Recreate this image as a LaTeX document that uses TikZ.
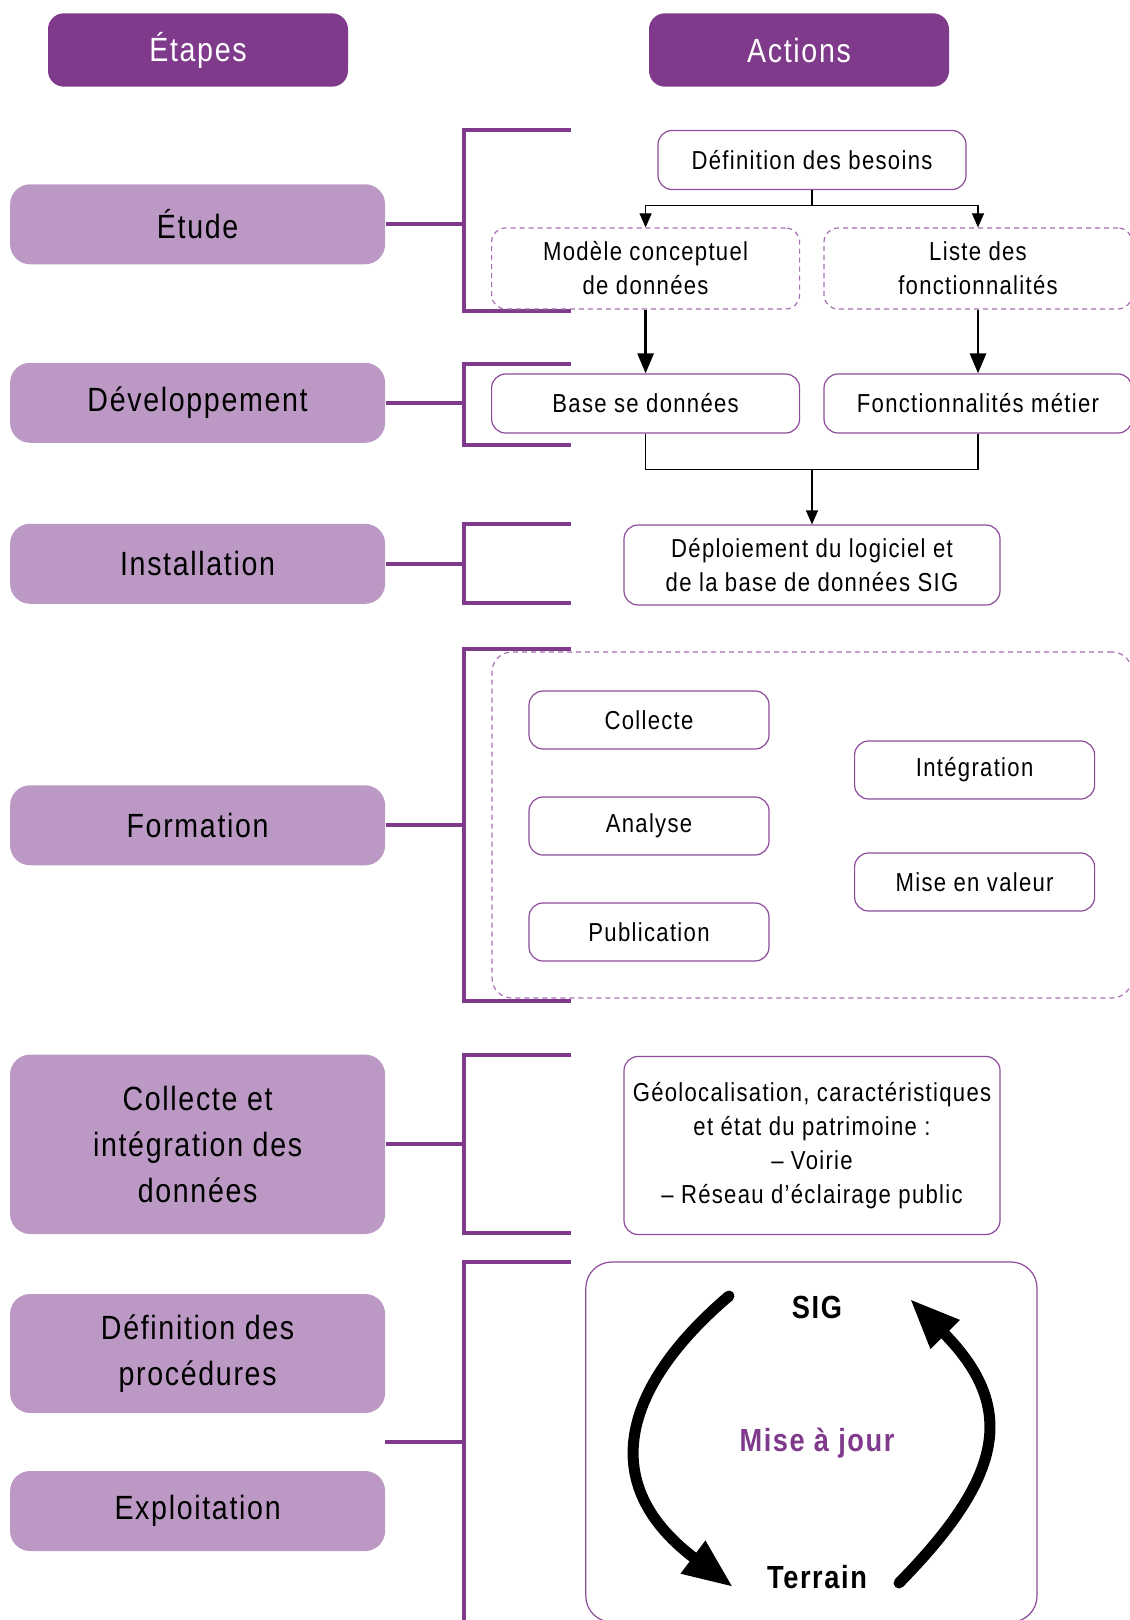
\documentclass[tikz,border=0pt]{standalone}
\usepackage{fontspec}
\setmainfont{Liberation Sans}[FakeStretch=0.85,LetterSpace=5]
\usetikzlibrary{arrows.meta,calc}

\definecolor{violetfonce}{HTML}{7F3A8B}
\definecolor{violetclair}{HTML}{BC99C5}
\definecolor{violetbord}{HTML}{8E4B9B}
\definecolor{violettiret}{HTML}{A570B0}

\tikzset{
  entete/.style={fill=violetfonce, rounded corners=8pt, minimum width=150pt,
    minimum height=36.7pt, text=white, font=\fontsize{16.8}{20}\selectfont},
  etape/.style={fill=violetclair, rounded corners=10pt, minimum width=187.5pt,
    minimum height=40pt, align=center, font=\fontsize{16.8}{23}\selectfont},
  action/.style={draw=violetbord, line width=0.6pt, fill=white, rounded corners=7pt,
    minimum width=154pt, minimum height=29.5pt, inner sep=2pt, align=center,
    font=\fontsize{13}{17}\selectfont},
  actionpt/.style={action, draw=violettiret, dash pattern=on 2.5pt off 2pt},
  accolade/.style={draw=violetfonce, line width=2pt},
  fleche/.style={-{Triangle[length=7pt,width=6pt]}, line width=0.6pt},
  flechegrasse/.style={-{Triangle[length=10pt,width=8pt]}, line width=1.4pt},
  boucle/.style={-{Triangle[length=25pt,width=19pt]}, line width=5.5pt, line cap=round},
  cycletexte/.style={font=\bfseries\fontsize{16}{20}\selectfont}
}

\begin{document}
\begin{tikzpicture}[x=0.5pt,y=-0.5pt]
\useasboundingbox (0,0) rectangle (1129,1620);
% en-tetes
\node[entete] (etapes) at (198,50) {Étapes};
\node[entete] (actions) at (799,50) {Actions};
% etapes
\node[etape] (etude) at (197.6,224.3) {Étude};
\node[etape] (dev) at (197.6,402.8) {Développement};
\node[etape] (install) at (197.6,563.8) {Installation};
\node[etape] (formation) at (197.6,825.3) {Formation};
\node[etape,minimum height=89.7pt] (collecte) at (197.6,1144.3) {Collecte et\\intégration des\\données};
\node[etape,minimum height=59.5pt] (procedures) at (197.6,1353.5) {Définition des\\procédures};
\node[etape] (exploitation) at (197.6,1511) {Exploitation};
% accolades
\coordinate (dos) at (464,0);
\foreach \h/\b in {130/311,363.6/445,523.7/603,648.7/1001,1054.6/1233,1262/1640}
  \draw[accolade] (571,\h) -- (464,\h) -- (464,\b) -- (571,\b);
\foreach \n in {etude,dev,install,formation,collecte}
  \draw[accolade] (\n.east) -- (\n.east -| dos);
\coordinate (jonction) at (385,1442);
\draw[accolade] (jonction) -- (jonction -| dos);
% actions
\node[action] (besoins) at (812,160) {Définition des besoins};
\node[actionpt,minimum height=40.5pt] (modele) at (645.6,268.5) {Modèle conceptuel\\de données};
\node[actionpt,minimum height=40.5pt] (liste) at (978,268.5) {Liste des\\fonctionnalités};
\node[action] (bdd) at (645.6,403.5) {Base se données};
\node[action] (metier) at (978,403.5) {Fonctionnalités métier};
\node[action,minimum width=188pt,minimum height=40pt] (deploiement) at (812,565) {Déploiement du logiciel et\\de la base de données SIG};
\node[actionpt,fill=none,rounded corners=10pt,minimum width=320pt,minimum height=173pt] (cadre) at (812,825) {};
\node[action,minimum width=120pt,minimum height=29pt] (acollecte) at (649,720) {Collecte};
\node[action,minimum width=120pt,minimum height=29pt] (analyse) at (649,826) {Analyse};
\node[action,minimum width=120pt,minimum height=29pt] (publication) at (649,932) {Publication};
\node[action,minimum width=120pt,minimum height=29pt] (integration) at (974.6,770) {Intégration};
\node[action,minimum width=120pt,minimum height=29pt] (valeur) at (974.6,882) {Mise en valeur};
\node[action,minimum width=188pt,minimum height=89pt] (patrimoine) at (812,1145.5)
  {Géolocalisation, caractéristiques\\et état du patrimoine :\\– Voirie\\– Réseau d’éclairage public};
\node[action,rounded corners=13pt,minimum width=225.6pt,minimum height=180pt] (majcadre) at (811.4,1442) {};
\node[cycletexte] (sig) at (817,1307) {SIG};
\node[cycletexte] (terrain) at (817,1577) {Terrain};
\node[cycletexte,text=violetfonce] (maj) at (817,1443) {Mise à jour};
% liaisons
\coordinate (partage) at ($(besoins.south)+(0,15.5)$);
\draw[line width=0.6pt] (besoins.south) -- (partage);
\draw[fleche] (partage) -| (modele.north);
\draw[fleche] (partage) -| (liste.north);
\draw[flechegrasse] (modele.south) -- (bdd.north);
\draw[flechegrasse] (liste.south) -- (metier.north);
\coordinate (reunion) at ($(deploiement.north)+(0,-54.7)$);
\draw[line width=0.6pt] (bdd.south) |- (reunion) -| (metier.south);
\draw[fleche] (reunion) -- (deploiement.north);
% mise a jour
\draw[boucle] (729,1296) .. controls (630,1380) and (590,1480) .. (733,1587);
\draw[boucle] (899,1583) .. controls (1000,1480) and (1020,1410) .. (910,1299);
\end{tikzpicture}
\end{document}
